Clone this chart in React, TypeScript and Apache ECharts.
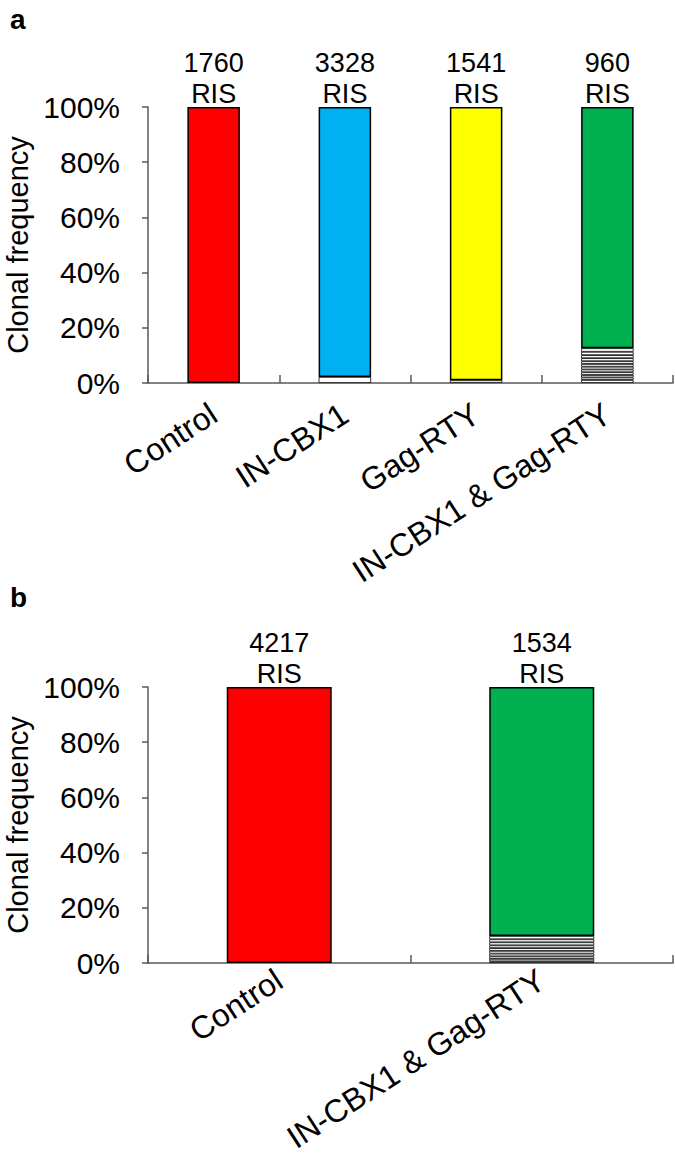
import React, { useEffect, useRef } from "react";
import * as echarts from "echarts";

// Panel a
const aCategories = ["Control", "IN-CBX1", "Gag-RTY", "IN-CBX1 & Gag-RTY"];
const aCounts = [1760, 3328, 1541, 960];
const aColors = ["#FF0000", "#00B0F0", "#FFFF00", "#00B050"];
const aMinorClones: number[][] = [
  [],
  [2.2],
  [1.0],
  [1.1, 0.9, 0.9, 1.0, 1.0, 1.0, 1.0, 1.0, 1.1, 1.1, 1.2, 1.3],
];
// Panel b
const bCategories = ["Control", "IN-CBX1 & Gag-RTY"];
const bCounts = [4217, 1534];
const bColors = ["#FF0000", "#00B050"];
const bMinorClones: number[][] = [
  [],
  [0.6, 0.9, 0.9, 1.0, 1.0, 1.0, 1.0, 1.1, 1.1, 1.2],
];
const yTicks = [0, 20, 40, 60, 80, 100];

const FONT = "'Liberation Sans', Arial, sans-serif";

function buildSeries(
  minors: number[][],
  counts: number[],
  colors: string[],
  axisIndex: number
): any[] {
  const maxN = Math.max(0, ...minors.map((m) => m.length));
  const series: any[] = [];
  const stack = "s" + axisIndex;
  for (let i = 0; i < maxN; i++) {
    series.push({
      type: "bar",
      stack,
      xAxisIndex: axisIndex,
      yAxisIndex: axisIndex,
      barWidth: "40%",
      data: minors.map((m) => (i < m.length ? m[i] : null)),
      itemStyle: { color: "#FFFFFF", borderColor: "#000000", borderWidth: 0.8 },
      silent: true,
    });
  }
  series.push({
    type: "bar",
    stack,
    xAxisIndex: axisIndex,
    yAxisIndex: axisIndex,
    barWidth: "40%",
    data: minors.map((m, c) => ({
      value: 100 - m.reduce((a, b) => a + b, 0),
      itemStyle: { color: colors[c] },
    })),
    itemStyle: { borderColor: "#000000", borderWidth: 1.5 },
    label: {
      show: true,
      position: "top",
      distance: -2,
      fontFamily: FONT,
      fontSize: 27,
      lineHeight: 31,
      color: "#000000",
      formatter: (p: any) => `${counts[p.dataIndex]}\nRIS`,
    },
  });
  return series;
}

function makeAxes(idx: number, cats: string[], labelMargin: number) {
  const x = {
    type: "category",
    gridIndex: idx,
    data: cats,
    axisLine: { show: true, lineStyle: { color: "#595959", width: 1.5 } },
    axisTick: { show: true, inside: true, length: 8, lineStyle: { color: "#595959", width: 1.5 } },
    axisLabel: {
      interval: 0,
      rotate: 33,
      margin: labelMargin,
      verticalAlign: "middle",
      fontFamily: FONT,
      fontSize: 32,
      lineHeight: 32,
      color: "#000000",
    },
  };
  const y = {
    type: "value",
    gridIndex: idx,
    min: 0,
    max: 100,
    interval: 20,
    name: "Clonal frequency",
    nameLocation: "middle",
    nameGap: 115,
    nameTextStyle: { fontFamily: FONT, fontSize: 29, color: "#000000" },
    axisLine: { show: true, lineStyle: { color: "#595959", width: 1.5 } },
    axisTick: { show: true, inside: false, length: 6, lineStyle: { color: "#595959", width: 1.5 } },
    splitLine: { show: false },
    axisLabel: {
      margin: 28,
      fontFamily: FONT,
      fontSize: 30,
      color: "#000000",
      formatter: (v: number) => (yTicks.includes(v) ? `${v}%` : ""),
    },
  };
  return { x, y };
}

export default function App() {
  const ref = useRef<HTMLDivElement>(null);
  useEffect(() => {
    document.body.style.margin = "0";
    if (!ref.current) return;
    const chart = echarts.init(ref.current, undefined, { renderer: "svg" });
    const a = makeAxes(0, aCategories, 28);
    const b = makeAxes(1, bCategories, 14);
    chart.setOption({
      animation: false,
      backgroundColor: "#FFFFFF",
      textStyle: { fontFamily: FONT },
      grid: [
        { left: 148, top: 107, width: 525, height: 276, outerBoundsMode: "none", containLabel: false },
        { left: 148, top: 687, width: 525, height: 276, outerBoundsMode: "none", containLabel: false },
      ],
      xAxis: [a.x, b.x],
      yAxis: [a.y, b.y],
      graphic: [
        {
          type: "text",
          left: 10,
          top: 5,
          style: { text: "a", font: `bold 28px ${FONT}`, fill: "#000000" },
        },
        {
          type: "text",
          left: 10,
          top: 583,
          style: { text: "b", font: `bold 28px ${FONT}`, fill: "#000000" },
        },
      ],
      series: [
        ...buildSeries(aMinorClones, aCounts, aColors, 0),
        ...buildSeries(bMinorClones, bCounts, bColors, 1),
      ],
    });
    return () => chart.dispose();
  }, []);
  return <div ref={ref} style={{ width: 675, height: 1157 }} />;
}
